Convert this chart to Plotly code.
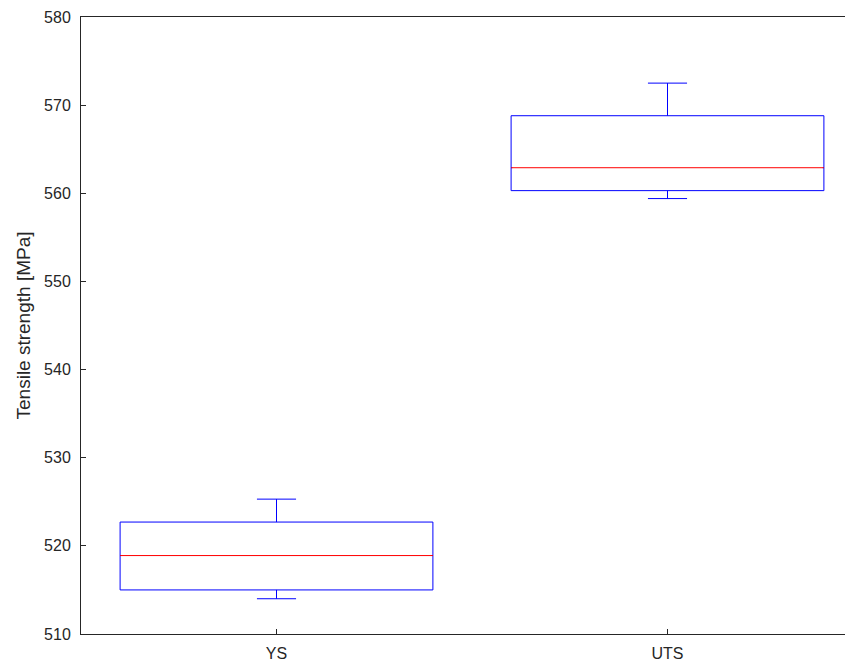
import plotly.graph_objects as go

categories = ["YS", "UTS"]
positions = [1, 2]
lower_whisker = [514.0, 559.4]
q1 = [515.0, 560.3]
median = [518.9, 562.9]
q3 = [522.7, 568.8]
upper_whisker = [525.3, 572.5]

box_half = 0.4
blue = "#0000FF"
red = "#FF0000"
axis_col = "#262626"

fig = go.Figure()
fig.add_trace(go.Box(
    x=positions, q1=q1, median=median, q3=q3,
    lowerfence=lower_whisker, upperfence=upper_whisker,
    width=2 * box_half, whiskerwidth=0.125,
    line=dict(color=blue, width=1), fillcolor="rgba(0,0,0,0)",
    boxpoints=False, hoverinfo="skip", showlegend=False,
))
inner = box_half - 0.003
for p, m in zip(positions, median):
    fig.add_trace(go.Scatter(
        x=[p - inner, p + inner], y=[m, m], mode="lines",
        line=dict(color="white", width=2.5), showlegend=False, hoverinfo="skip",
    ))
    fig.add_trace(go.Scatter(
        x=[p - box_half, p + box_half], y=[m, m], mode="lines",
        line=dict(color=red, width=1), showlegend=False, hoverinfo="skip",
    ))

fig.update_layout(
    width=845, height=655,
    margin=dict(l=73, r=0, t=9, b=29),
    paper_bgcolor="white", plot_bgcolor="white",
    font=dict(family="Liberation Sans, Arial, sans-serif", size=16, color=axis_col),
)
fig.update_xaxes(
    range=[0.5, 0.5 + 772 / 391],
    tickvals=positions, ticktext=categories,
    ticks="inside", ticklen=5, tickcolor=axis_col, ticklabelstandoff=5,
    showline=True, linecolor=axis_col, linewidth=1, mirror=True,
    showgrid=False, zeroline=False,
)
fig.update_yaxes(
    range=[510, 580], tickvals=list(range(510, 581, 10)),
    ticks="inside", ticklen=5, tickcolor=axis_col, ticklabelstandoff=6,
    showline=True, linecolor=axis_col, linewidth=1,
    showgrid=False, zeroline=False,
    title=dict(text="Tensile strength [MPa]", standoff=8),
)
fig.write_html("out.html")
